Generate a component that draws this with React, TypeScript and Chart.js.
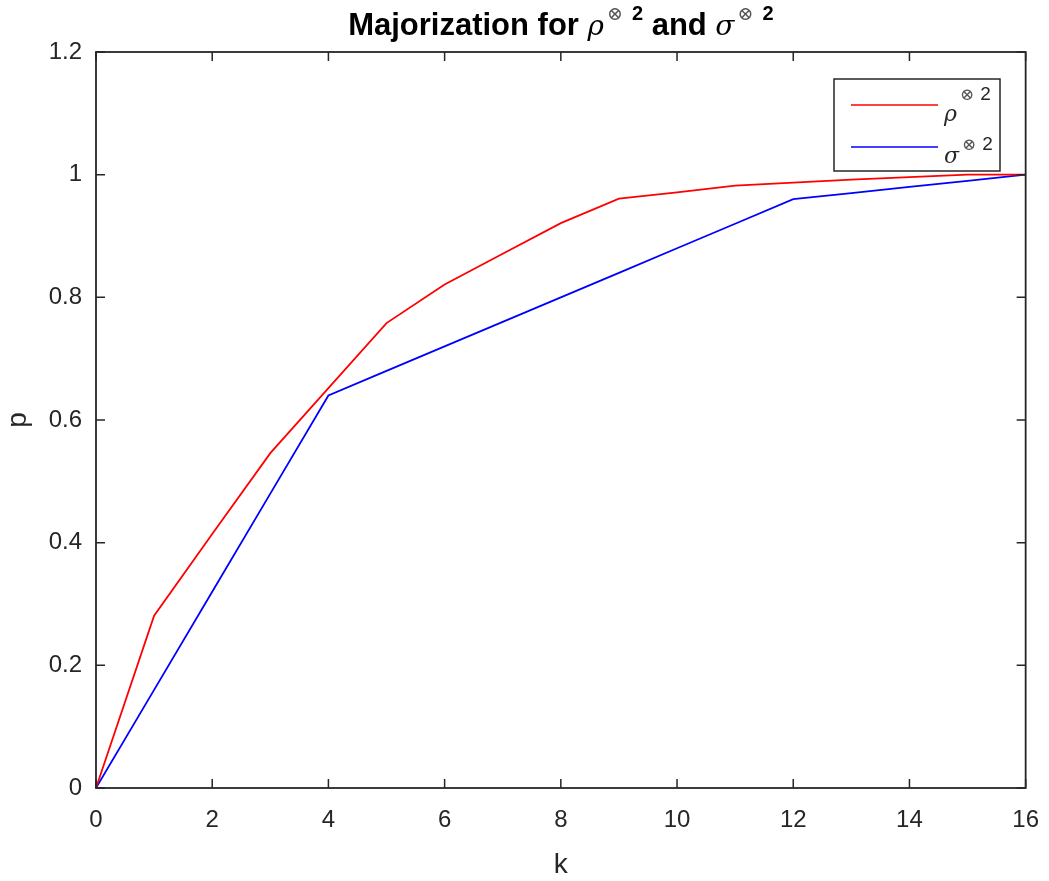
import React, { useEffect, useRef } from "react";
import { Chart, registerables } from "chart.js";

Chart.register(...registerables);

const kValues = [0, 1, 2, 3, 4, 5, 6, 7, 8, 9, 10, 11, 12, 13, 14, 15, 16];
const rhoValues = [0, 0.281, 0.414, 0.546, 0.652, 0.758, 0.821, 0.871, 0.921, 0.961, 0.971, 0.982, 0.987, 0.992, 0.996, 1.0, 1.0];
const sigmaValues = [0, 0.16, 0.32, 0.48, 0.64, 0.68, 0.72, 0.76, 0.8, 0.84, 0.88, 0.92, 0.96, 0.97, 0.98, 0.99, 1.0];
const xTicks = [0, 2, 4, 6, 8, 10, 12, 14, 16];
const yTicks = [0, 0.2, 0.4, 0.6, 0.8, 1, 1.2];
const seriesNames = ["ρ", "σ"];
const seriesColors = ["#ff0000", "#0000ff"];
const titleWords = ["Majorization for ", " and "];
const supSymbol = "⊗";
const supPower = "2";

const AXIS = "#262626";
const SANS = '"Liberation Sans", Arial, Helvetica, sans-serif';
const SERIF = '"DejaVu Serif", "Liberation Serif", serif';

function drawSup(ctx: CanvasRenderingContext2D, x: number, y: number, symFont: string, powFont: string, gap: number, color: string) {
  ctx.font = symFont;
  ctx.fillStyle = "#555";
  ctx.fillText(supSymbol, x, y);
  const w1 = ctx.measureText(supSymbol).width;
  ctx.font = powFont;
  ctx.fillStyle = color;
  ctx.fillText(supPower, x + w1 + gap, y);
  return w1 + gap + ctx.measureText(supPower).width;
}

function supWidth(ctx: CanvasRenderingContext2D, symFont: string, powFont: string, gap: number) {
  ctx.font = symFont;
  const w1 = ctx.measureText(supSymbol).width;
  ctx.font = powFont;
  return w1 + gap + ctx.measureText(supPower).width;
}

const decorPlugin = {
  id: "decor",
  afterDraw(chart: any) {
    const ctx = chart.ctx as CanvasRenderingContext2D;
    const a = chart.chartArea;
    const xs = chart.scales.x;
    const ys = chart.scales.y;
    ctx.save();
    // frame
    ctx.strokeStyle = AXIS;
    ctx.lineWidth = 1.8;
    ctx.strokeRect(a.left, a.top, a.right - a.left, a.bottom - a.top);
    const tl = 9;
    ctx.lineWidth = 1.5;
    ctx.beginPath();
    for (const v of xTicks) {
      const px = xs.getPixelForValue(v);
      ctx.moveTo(px, a.bottom);
      ctx.lineTo(px, a.bottom - tl);
      ctx.moveTo(px, a.top);
      ctx.lineTo(px, a.top + tl);
    }
    for (const v of yTicks) {
      const py = ys.getPixelForValue(v);
      ctx.moveTo(a.left, py);
      ctx.lineTo(a.left + tl, py);
      ctx.moveTo(a.right, py);
      ctx.lineTo(a.right - tl, py);
    }
    ctx.stroke();

    // axis labels
    ctx.fillStyle = AXIS;
    ctx.font = `28px ${SANS}`;
    ctx.textAlign = "center";
    ctx.textBaseline = "alphabetic";
    ctx.fillText("k", (a.left + a.right) / 2, 873);
    ctx.save();
    ctx.translate(26, (a.top + a.bottom) / 2);
    ctx.rotate(-Math.PI / 2);
    ctx.fillText("p", 0, 0);
    ctx.restore();

    // title
    ctx.textAlign = "left";
    const baseY = 35;
    const supY = 20;
    const wordFont = `bold 31px ${SANS}`;
    const greekFont = `italic 28px ${SERIF}`;
    const symFont = `19px ${SERIF}`;
    const powFont = `bold 20px ${SANS}`;
    const gap = 9;
    const sw = supWidth(ctx, symFont, powFont, gap);
    ctx.font = wordFont;
    const w0 = ctx.measureText(titleWords[0]).width;
    const w2 = ctx.measureText(titleWords[1]).width;
    ctx.font = greekFont;
    const wr = ctx.measureText(seriesNames[0]).width;
    const ws = ctx.measureText(seriesNames[1]).width;
    const total = w0 + wr + 3 + sw + w2 + ws + 3 + sw;
    let x = (a.left + a.right) / 2 - total / 2;
    ctx.fillStyle = "#000";
    ctx.font = wordFont;
    ctx.fillText(titleWords[0], x, baseY);
    x += w0;
    ctx.font = greekFont;
    ctx.fillText(seriesNames[0], x, baseY);
    x += wr + 3;
    x += drawSup(ctx, x, supY, symFont, powFont, gap, "#000");
    ctx.fillStyle = "#000";
    ctx.font = wordFont;
    ctx.fillText(titleWords[1], x, baseY);
    x += w2;
    ctx.font = greekFont;
    ctx.fillText(seriesNames[1], x, baseY);
    x += ws + 3;
    drawSup(ctx, x, supY, symFont, powFont, gap, "#000");

    // legend
    const lx = 834, ly = 79, lw = 166, lh = 92;
    ctx.fillStyle = "#fff";
    ctx.fillRect(lx, ly, lw, lh);
    ctx.strokeStyle = AXIS;
    ctx.lineWidth = 1.5;
    ctx.strokeRect(lx, ly, lw, lh);
    const rows = [105, 147];
    const textBase = [121, 163];
    const supBase = [100, 150];
    rows.forEach((ry, i) => {
      ctx.strokeStyle = seriesColors[i];
      ctx.lineWidth = 1.6;
      ctx.beginPath();
      ctx.moveTo(851, ry);
      ctx.lineTo(938, ry);
      ctx.stroke();
      ctx.fillStyle = AXIS;
      ctx.font = `italic 22px ${SERIF}`;
      ctx.fillText(seriesNames[i], 944, textBase[i]);
      const w = ctx.measureText(seriesNames[i]).width;
      drawSup(ctx, 944 + w + 3, supBase[i], `17px ${SERIF}`, `19px ${SANS}`, 6, AXIS);
    });
    ctx.restore();
  },
};

export default function App() {
  const ref = useRef<HTMLCanvasElement | null>(null);
  useEffect(() => {
    if (!ref.current) return;
    const chart = new Chart(ref.current, {
      type: "line",
      data: {
        labels: kValues,
        datasets: [
          {
            label: "rho",
            data: kValues.map((k, i) => ({ x: k, y: rhoValues[i] })),
            borderColor: seriesColors[0],
            borderWidth: 1.8,
            pointRadius: 0,
            tension: 0,
            fill: false,
          },
          {
            label: "sigma",
            data: kValues.map((k, i) => ({ x: k, y: sigmaValues[i] })),
            borderColor: seriesColors[1],
            borderWidth: 1.8,
            pointRadius: 0,
            tension: 0,
            fill: false,
          },
        ],
      },
      options: {
        animation: false,
        responsive: false,
        maintainAspectRatio: false,
        layout: { padding: { left: 0, top: 52, right: 21, bottom: 0 } },
        plugins: {
          legend: { display: false },
          title: { display: false },
          tooltip: { enabled: false },
        },
        scales: {
          x: {
            type: "linear",
            min: 0,
            max: 16,
            afterFit: (s: any) => {
              s.height = 93;
            },
            afterBuildTicks: (s: any) => {
              s.ticks = xTicks.map((v) => ({ value: v }));
            },
            grid: { display: false },
            border: { display: false },
            ticks: {
              color: AXIS,
              font: { size: 24, family: SANS },
              padding: 10,
              maxRotation: 0,
            },
          },
          y: {
            type: "linear",
            min: 0,
            max: 1.2,
            afterFit: (s: any) => {
              s.width = 96;
            },
            afterBuildTicks: (s: any) => {
              s.ticks = yTicks.map((v) => ({ value: v }));
            },
            grid: { display: false },
            border: { display: false },
            ticks: {
              color: AXIS,
              font: { size: 24, family: SANS },
              padding: 6,
              callback: (v: any) => String(Math.round(Number(v) * 10) / 10),
            },
          },
        },
      },
      plugins: [decorPlugin],
    });
    return () => chart.destroy();
  }, []);
  return (
    <div style={{ position: "absolute", left: 0, top: 0, width: 1049, height: 881, background: "#fff" }}>
      <canvas ref={ref} width={1049} height={881} style={{ display: "block" }} />
    </div>
  );
}
